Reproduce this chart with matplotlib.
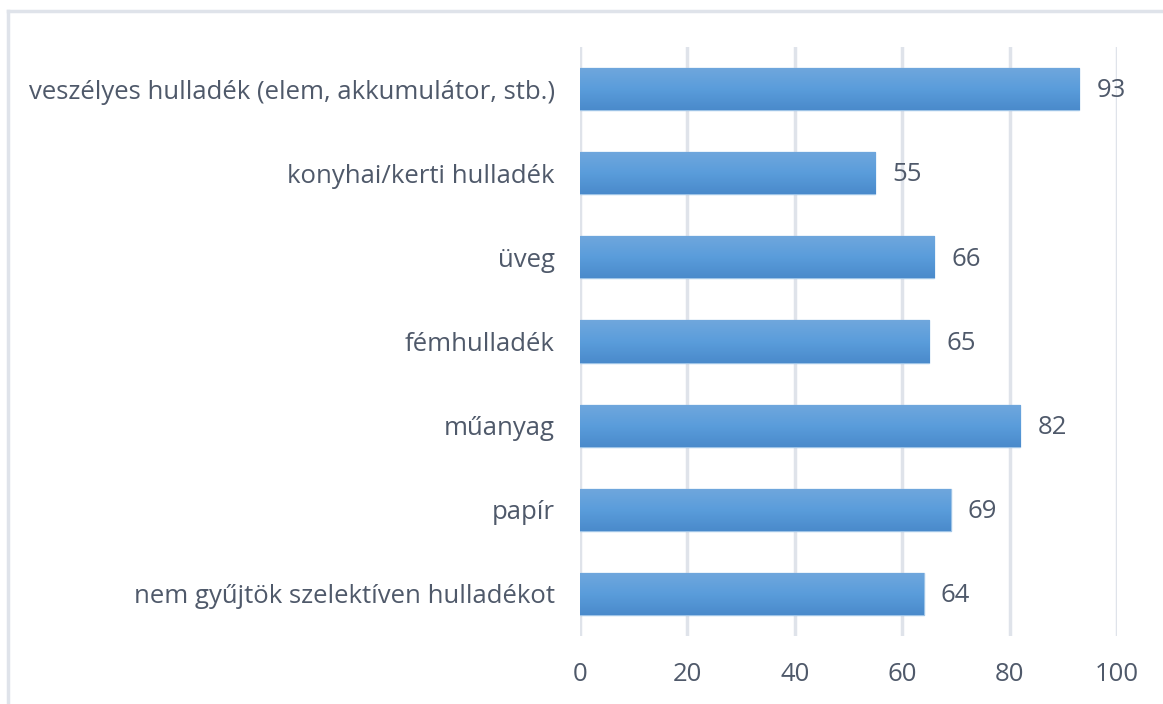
import numpy as np
import matplotlib.pyplot as plt
from matplotlib.colors import LinearSegmentedColormap

categories = ['nem gyűjtök szelektíven hulladékot', 'papír', 'műanyag',
              'fémhulladék', 'üveg', 'konyhai/kerti hulladék',
              'veszélyes hulladék (elem, akkumulátor, stb.)']
values = [64, 69, 82, 65, 66, 55, 93]
xticks = [0, 20, 40, 60, 80, 100]

text_col = '#4f596a'
grid_col = '#dfe3ea'

plt.rcParams['font.family'] = ['Open Sans', 'DejaVu Sans']

fig = plt.figure(figsize=(11.63, 7.04), dpi=100)
ax = fig.add_axes([0.4987, 0.0966, 0.4618, 0.8366])

# border of the chart area (only top/left visible)
fig.add_artist(plt.Line2D([0.0069, 0.0069], [0, 0.984], color=grid_col, lw=2.5, transform=fig.transFigure))
fig.add_artist(plt.Line2D([0.0069, 1.0], [0.984, 0.984], color=grid_col, lw=2.5, transform=fig.transFigure))

y = np.arange(len(categories))
bars = ax.barh(y, values, height=0.5, color='#5b9bd5', edgecolor='#9dc3e6', lw=1.0, zorder=3)

cmap = LinearSegmentedColormap.from_list('g', ['#4a8acb', '#5a9ddb', '#70a7dd'])
grad = np.linspace(0, 1, 256).reshape(-1, 1)
for b in bars:
    x0, y0 = b.get_x(), b.get_y()
    w, h = b.get_width(), b.get_height()
    im = ax.imshow(grad, cmap=cmap, aspect='auto', extent=[x0, x0 + w, y0, y0 + h],
                   origin='lower', zorder=3.5)
    im.set_clip_path(b)

for yi, v in zip(y, values):
    ax.text(v + 3.2, yi - 0.02, str(v), va='center', ha='left', fontsize=18.5, color=text_col)

ax.set_xlim(0, 100)
ax.set_ylim(-0.5, len(categories) - 0.5)
ax.set_xticks(xticks)
ax.set_yticks(y)
ax.set_yticklabels(categories)
ax.tick_params(axis='y', length=0, pad=18, labelsize=18.5, labelcolor=text_col)
ax.tick_params(axis='x', length=0, pad=19, labelsize=18.5, labelcolor=text_col)
ax.grid(axis='x', color=grid_col, lw=2.5, zorder=0)
for s in ax.spines.values():
    s.set_visible(False)

fig.savefig('out.png', dpi=100)
